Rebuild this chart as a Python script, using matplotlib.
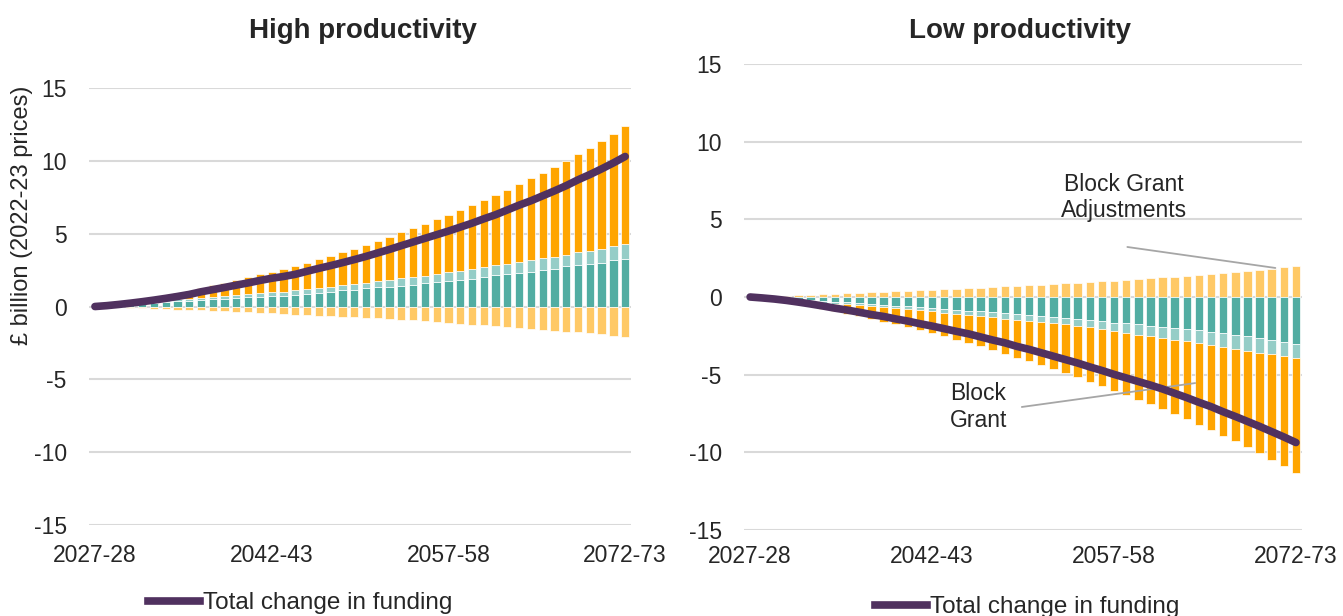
import matplotlib.pyplot as plt
import numpy as np
from matplotlib.lines import Line2D

plt.rcParams['font.family'] = ['Liberation Sans', 'DejaVu Sans']
plt.rcParams['axes.unicode_minus'] = False

# categories: financial years 2027-28 .. 2072-73
years = ["%d-%02d" % (y, (y + 1) % 100) for y in range(2027, 2073)]
tick_years = ["2027-28", "2042-43", "2057-58", "2072-73"]

# High productivity: stacked boundaries (£bn)
hp_teal_top = [0, 0.05, 0.10, 0.15, 0.20, 0.25, 0.30, 0.35, 0.40, 0.44,
               0.49, 0.53, 0.57, 0.62, 0.66, 0.70, 0.75, 0.82, 0.89, 0.96,
               1.03, 1.10, 1.16, 1.26, 1.32, 1.37, 1.44, 1.51, 1.60, 1.69,
               1.78, 1.84, 1.90, 2.06, 2.13, 2.20, 2.33, 2.40, 2.49, 2.61,
               2.75, 2.84, 2.91, 3.02, 3.16, 3.27]
hp_light_top = [0, 0.07, 0.14, 0.21, 0.28, 0.35, 0.42, 0.49, 0.55, 0.61,
                0.67, 0.73, 0.79, 0.85, 0.91, 0.97, 1.03, 1.10, 1.19, 1.28,
                1.37, 1.46, 1.55, 1.62, 1.74, 1.85, 1.94, 2.01, 2.12, 2.26,
                2.35, 2.44, 2.56, 2.72, 2.84, 2.93, 3.04, 3.18, 3.32, 3.43,
                3.55, 3.71, 3.84, 3.98, 4.14, 4.28]
hp_orange_top = [0, 0.09, 0.20, 0.32, 0.45, 0.59, 0.74, 0.90, 1.07, 1.28,
                 1.46, 1.64, 1.83, 2.01, 2.21, 2.40, 2.56, 2.76, 3.01, 3.24,
                 3.47, 3.72, 3.97, 4.22, 4.50, 4.79, 5.09, 5.37, 5.66, 5.98,
                 6.30, 6.62, 6.96, 7.32, 7.67, 8.03, 8.42, 8.79, 9.18, 9.59,
                 10.02, 10.46, 10.89, 11.35, 11.85, 12.36]
hp_bga = [0, -0.03, -0.06, -0.09, -0.12, -0.15, -0.18, -0.21, -0.24, -0.27,
          -0.30, -0.33, -0.36, -0.39, -0.42, -0.46, -0.50, -0.55, -0.59, -0.62,
          -0.66, -0.71, -0.75, -0.78, -0.82, -0.87, -0.91, -0.94, -0.98, -1.05,
          -1.12, -1.17, -1.24, -1.30, -1.37, -1.40, -1.46, -1.53, -1.58, -1.65,
          -1.72, -1.76, -1.83, -1.90, -1.99, -2.06]

# Low productivity
lp_bga = [0, 0.03, 0.06, 0.09, 0.12, 0.15, 0.18, 0.21, 0.24, 0.27,
          0.30, 0.33, 0.36, 0.39, 0.42, 0.45, 0.49, 0.54, 0.57, 0.61,
          0.65, 0.69, 0.72, 0.76, 0.80, 0.84, 0.88, 0.92, 0.96, 1.01,
          1.05, 1.10, 1.16, 1.22, 1.27, 1.32, 1.38, 1.43, 1.49, 1.53,
          1.60, 1.66, 1.73, 1.81, 1.90, 1.97]
lp_teal_bot = [0, -0.04, -0.08, -0.13, -0.17, -0.21, -0.26, -0.30, -0.35, -0.40,
               -0.45, -0.50, -0.55, -0.61, -0.67, -0.72, -0.77, -0.82, -0.87, -0.91,
               -0.96, -1.02, -1.08, -1.15, -1.21, -1.26, -1.34, -1.41, -1.48, -1.57,
               -1.66, -1.69, -1.75, -1.84, -1.92, -2.01, -2.07, -2.14, -2.27, -2.33,
               -2.44, -2.53, -2.61, -2.74, -2.87, -3.00]
lp_light_bot = [0, -0.06, -0.12, -0.18, -0.24, -0.30, -0.36, -0.42, -0.48, -0.54,
                -0.60, -0.66, -0.72, -0.78, -0.85, -0.93, -1.01, -1.08, -1.16, -1.23,
                -1.30, -1.39, -1.47, -1.54, -1.62, -1.69, -1.77, -1.86, -1.95, -2.05,
                -2.18, -2.30, -2.42, -2.53, -2.63, -2.74, -2.85, -2.98, -3.09, -3.22,
                -3.35, -3.46, -3.59, -3.69, -3.82, -3.95]
lp_orange_bot = [0, -0.09, -0.19, -0.31, -0.45, -0.60, -0.76, -0.93, -1.08, -1.25,
                 -1.43, -1.58, -1.77, -1.94, -2.14, -2.32, -2.53, -2.75, -2.94, -3.18,
                 -3.42, -3.64, -3.90, -4.13, -4.39, -4.65, -4.91, -5.17, -5.46, -5.74,
                 -6.03, -6.31, -6.60, -6.89, -7.19, -7.52, -7.86, -8.21, -8.55, -8.92,
                 -9.29, -9.67, -10.06, -10.48, -10.91, -11.34]

TEAL = '#52ada2'
TEAL_LIGHT = '#95cdc7'
ORANGE = '#ffa500'
ORANGE_LIGHT = '#ffc966'
PURPLE = '#50315f'
TXT = '#262626'
LEADER = '#a6a6a6'
W = 0.7


def style(ax, xpad):
    ax.set_xlim(-0.5, 45.5)
    ax.set_ylim(-15, 15)
    ax.set_yticks(range(-15, 16, 5))
    ax.set_xticks([years.index(t) for t in tick_years])
    ax.set_xticklabels(tick_years)
    for s in ax.spines.values():
        s.set_visible(False)
    ax.tick_params(axis='both', length=0, labelsize=16.5, colors=TXT)
    ax.tick_params(axis='y', pad=16)
    ax.tick_params(axis='x', pad=xpad)
    ax.grid(axis='y', color='#d9d9d9', lw=1.5)
    ax.set_axisbelow(True)


def leader(ax, start, end):
    ax.annotate('', xy=end, xytext=start,
                arrowprops=dict(arrowstyle='-', color=LEADER, lw=1.3,
                                shrinkA=0, shrinkB=0))


fig = plt.figure(figsize=(13.43, 6.16), dpi=100)
ax1 = fig.add_axes([0.0663, 0.1477, 0.4036, 0.7094])
ax2 = fig.add_axes([0.554, 0.1396, 0.4155, 0.7565])

x = np.arange(len(years))
bar_kw = dict(width=W, edgecolor='white', linewidth=0.5)

# high productivity
d = np.array(hp_teal_top)
lt = np.array(hp_light_top)
o = np.array(hp_orange_top)
n = np.array(hp_bga)
ax1.bar(x, d, color=TEAL, **bar_kw)
ax1.bar(x, lt - d, bottom=d, color=TEAL_LIGHT, **bar_kw)
ax1.bar(x, o - lt, bottom=lt, color=ORANGE, **bar_kw)
ax1.bar(x, n, color=ORANGE_LIGHT, **bar_kw)
ax1.plot(x, o + n, color=PURPLE, lw=5.5, solid_capstyle='round', zorder=5)
style(ax1, 14)

# low productivity
lo = np.array(lp_bga)
d = np.array(lp_teal_bot)
lt = np.array(lp_light_bot)
o = np.array(lp_orange_bot)
ax2.bar(x, lo, color=ORANGE_LIGHT, **bar_kw)
ax2.bar(x, d, color=TEAL, **bar_kw)
ax2.bar(x, lt - d, bottom=d, color=TEAL_LIGHT, **bar_kw)
ax2.bar(x, o - lt, bottom=lt, color=ORANGE, **bar_kw)
ax2.plot(x, lo + o, color=PURPLE, lw=5.5, solid_capstyle='round', zorder=5)
style(ax2, 11)

# annotations
ax2.text(30.8, 6.4, 'Block Grant\nAdjustments', ha='center', va='center',
         fontsize=16.5, color=TXT)
leader(ax2, (31.1, 3.22), (43.3, 1.87))
ax2.text(18.8, -7.1, 'Block\nGrant', ha='center', va='center',
         fontsize=16.5, color=TXT)
leader(ax2, (22.4, -7.08), (36.7, -5.54))

# titles and axis label
fig.text(363 / 1343, 1 - 31 / 616, 'High productivity', ha='center', va='center',
         fontsize=20, fontweight='bold', color=TXT)
fig.text(1020 / 1343, 1 - 31 / 616, 'Low productivity', ha='center', va='center',
         fontsize=20, fontweight='bold', color=TXT)
fig.text(22 / 1343, 1 - 215 / 616, '£ billion (2022-23 prices)', rotation=90,
         ha='center', va='center', fontsize=17, color=TXT)

# legends
h = [Line2D([], [], color=PURPLE, lw=5.5)]
fig.legend(h, ['Total change in funding'], loc='center',
           bbox_to_anchor=(300 / 1343, 1 - 603 / 616), frameon=False,
           fontsize=17.5, handlelength=2.15, handletextpad=0.1,
           labelcolor=TXT, borderpad=0, borderaxespad=0)
fig.legend(h, ['Total change in funding'], loc='center',
           bbox_to_anchor=(1027 / 1343, 1 - 607 / 616), frameon=False,
           fontsize=17.5, handlelength=2.15, handletextpad=0.1,
           labelcolor=TXT, borderpad=0, borderaxespad=0)

fig.savefig('out.png', dpi=100)
